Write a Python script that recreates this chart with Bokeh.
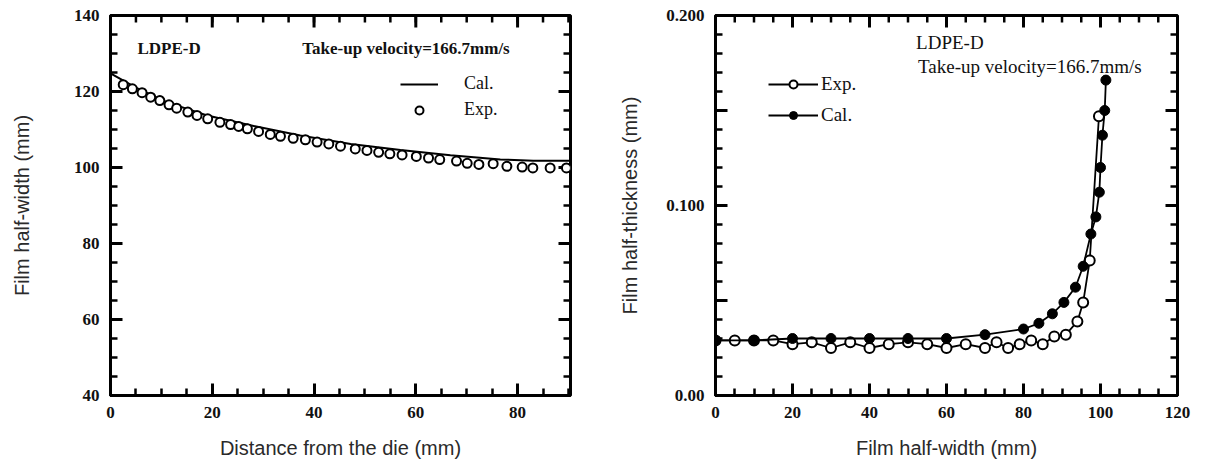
import math
from bokeh.plotting import figure
from bokeh.layouts import row
from bokeh.models import FixedTicker, Range1d, Legend, LegendItem
from bokeh.core.properties import value
from bokeh.embed import file_html
from bokeh.resources import INLINE

# ---------------- Left panel data: film half-width vs distance from die ----------------
dist_cal = [0, 5, 11, 19, 27.5, 37.3, 47.2, 57, 66.8, 76.6, 83.1, 90.4]
width_cal = [124.8, 121.0, 117.2, 113.7, 111.1, 108.4, 106.2, 104.6, 103.2, 102.1, 101.8, 101.8]

dist_exp = [2.5, 4.3, 6.2, 7.9, 9.7, 11.5, 13.0, 15.2, 17.0, 19.1, 21.5, 23.6, 25.2, 26.9,
            29.1, 31.4, 33.4, 35.9, 38.3, 40.6, 42.9, 45.2, 48.1, 50.4, 52.7, 54.9, 57.3,
            60.1, 62.5, 64.7, 68.0, 70.1, 72.4, 75.2, 77.9, 80.9, 83.0, 86.4, 89.6]
width_exp = [121.8, 120.7, 119.7, 118.5, 117.6, 116.5, 115.6, 114.6, 113.7, 112.8, 111.9,
             111.3, 110.8, 110.2, 109.5, 108.7, 108.2, 107.7, 107.3, 106.7, 106.2, 105.6,
             104.9, 104.5, 104.0, 103.6, 103.3, 102.9, 102.5, 102.1, 101.7, 101.1, 100.8,
             101.0, 100.3, 100.1, 99.9, 99.9, 99.9]

# ---------------- Right panel data: film half-thickness vs film half-width ----------------
hw_exp = [0, 5, 10, 15, 20, 25, 30, 35, 40, 45, 50, 55, 60, 65, 70, 73, 76, 79, 82, 85,
          88, 91, 94, 95.5, 97.2, 99.6]
ht_exp = [0.029, 0.029, 0.029, 0.029, 0.027, 0.028, 0.025, 0.028, 0.025, 0.027, 0.028,
          0.027, 0.025, 0.027, 0.025, 0.028, 0.025, 0.027, 0.029, 0.027, 0.031, 0.032,
          0.039, 0.049, 0.071, 0.147]

hw_cal = [0, 10, 20, 30, 40, 50, 60, 70, 80, 84, 87.5, 90.5, 93.5, 95.5, 97.5, 98.8,
          99.7, 100.0, 100.5, 101.1, 101.4]
ht_cal = [0.029, 0.029, 0.030, 0.030, 0.030, 0.030, 0.030, 0.032, 0.035, 0.038, 0.043,
          0.049, 0.057, 0.068, 0.085, 0.094, 0.107, 0.120, 0.137, 0.150, 0.166]

# tick labels / tick positions
left_x_ticks = [0, 20, 40, 60, 80]
left_x_minor = list(range(0, 91, 5))
left_y_ticks = [40, 60, 80, 100, 120, 140]
left_y_minor = list(range(40, 141, 5))
right_x_ticks = [0, 20, 40, 60, 80, 100, 120]
right_x_minor = list(range(0, 121, 5))
right_y_ticks = [0, 0.05, 0.1, 0.15, 0.2]
right_y_minor = [round(i * 0.01, 2) for i in range(0, 21)]
right_y_labels = {0: "0.00", 0.05: "", 0.1: "0.100", 0.15: "", 0.2: "0.200"}

TICK_FONT = "Liberation Serif"
TITLE_FONT = "Liberation Sans"


def style_axis(ax, ticks, minor, overrides=None, title=None, title_standoff=20):
    ax.ticker = FixedTicker(ticks=ticks, minor_ticks=minor)
    ax.axis_line_width = 3
    ax.axis_line_color = "black"
    ax.major_tick_in = 12
    ax.major_tick_out = 0
    ax.minor_tick_in = 7
    ax.minor_tick_out = 0
    ax.major_tick_line_color = "black"
    ax.minor_tick_line_color = "black"
    ax.major_tick_line_width = 3
    ax.minor_tick_line_width = 2.5
    ax.major_label_text_font = TICK_FONT
    ax.major_label_text_font_size = "17px"
    ax.major_label_text_font_style = "bold"
    ax.major_label_text_color = "#111111"
    ax.major_label_standoff = 11
    if overrides:
        ax.major_label_overrides = overrides
    ax.axis_label = title
    ax.axis_label_text_font = TITLE_FONT
    ax.axis_label_text_font_size = "20px"
    ax.axis_label_text_font_style = "normal"
    ax.axis_label_text_color = "#2a2a2a"
    ax.axis_label_standoff = title_standoff


def inward_ticks(p, xr, yr, xmaj, xmin, ymaj, ymin):
    # mirrored inward tick marks on the top and right edges: fixed-length screen rays
    for vals, ln, lw in ((xmaj, 12, 3), (xmin, 7, 2.5)):
        n = len(vals)
        p.ray(x=vals, y=[yr.end] * n, length=ln, length_units="screen",
              angle=-math.pi / 2, line_color="black", line_width=lw)
    for vals, ln, lw in ((ymaj, 12, 3), (ymin, 7, 2.5)):
        n = len(vals)
        p.ray(x=[xr.end] * n, y=vals, length=ln, length_units="screen",
              angle=math.pi, line_color="black", line_width=lw)


def make_fig(width, xr, yr, left_border):
    p = figure(width=width, height=468, x_range=xr, y_range=yr,
               output_backend="svg", toolbar_location=None,
               min_border_left=left_border, min_border_right=30,
               min_border_top=15, min_border_bottom=73)
    p.xgrid.grid_line_color = None
    p.ygrid.grid_line_color = None
    p.outline_line_color = "black"
    p.outline_line_width = 3
    return p


# ---------------- Left figure ----------------
xr1, yr1 = Range1d(0, 90.4), Range1d(40, 140)
p1 = make_fig(600, xr1, yr1, 110)
style_axis(p1.xaxis[0], left_x_ticks, left_x_minor,
           title="Distance from the die (mm)", title_standoff=16)
style_axis(p1.yaxis[0], left_y_ticks, left_y_minor,
           title="Film half-width (mm)", title_standoff=38)
inward_ticks(p1, xr1, yr1, left_x_ticks, left_x_minor, left_y_ticks, left_y_minor)

cal1 = p1.line(dist_cal, width_cal, line_color="black", line_width=2)
exp1 = p1.scatter(dist_exp, width_exp, marker="circle", size=9, fill_color="white",
                  line_color="black", line_width=2)

leg1 = Legend(items=[LegendItem(label="Cal.", renderers=[cal1]),
                     LegendItem(label="Exp.", renderers=[exp1])],
              location=(280, 265), glyph_width=38, glyph_height=20, label_height=20,
              label_standoff=26, spacing=5, padding=10, border_line_alpha=0,
              background_fill_alpha=0, label_text_font=TICK_FONT,
              label_text_font_size="18px", label_text_color="#111111")
p1.add_layout(leg1, "center")

ann1_x = [5.3, 37.7]
ann1_y = [131.3, 131.3]
ann1_t = ["LDPE-D", "Take-up velocity=166.7mm/s"]
p1.text(ann1_x, ann1_y, text=ann1_t, text_font=value(TICK_FONT), text_font_size="17px",
        text_font_style="bold", text_baseline="middle", text_align="left", text_color="#111111")

# ---------------- Right figure ----------------
xr2, yr2 = Range1d(0, 120), Range1d(0, 0.2)
p2 = make_fig(607, xr2, yr2, 115)
style_axis(p2.xaxis[0], right_x_ticks, right_x_minor,
           title="Film half-width (mm)", title_standoff=16)
style_axis(p2.yaxis[0], right_y_ticks, right_y_minor, overrides=right_y_labels,
           title="Film half-thickness (mm)", title_standoff=22)
inward_ticks(p2, xr2, yr2, right_x_ticks, right_x_minor, right_y_ticks, right_y_minor)

exp_line = p2.line(hw_exp, ht_exp, line_color="black", line_width=1.8)
exp_pts = p2.scatter(hw_exp, ht_exp, marker="circle", size=10, fill_color="white",
                     line_color="black", line_width=2)
cal_line = p2.line(hw_cal, ht_cal, line_color="black", line_width=1.8)
cal_pts = p2.scatter(hw_cal, ht_cal, marker="circle", size=10, fill_color="black",
                     line_color="black", line_width=1)

leg2 = Legend(items=[LegendItem(label="Exp.", renderers=[exp_line, exp_pts]),
                     LegendItem(label="Cal.", renderers=[cal_line, cal_pts])],
              location=(43, 259), glyph_width=50, glyph_height=20, label_height=20,
              label_standoff=3, spacing=9, padding=10, border_line_alpha=0,
              background_fill_alpha=0, label_text_font=TICK_FONT,
              label_text_font_size="19px", label_text_color="#111111")
p2.add_layout(leg2, "center")

ann2_x = [52.1, 52.6]
ann2_y = [0.186, 0.173]
ann2_t = ["LDPE-D", "Take-up velocity=166.7mm/s"]
p2.text(ann2_x, ann2_y, text=ann2_t, text_font=value(TICK_FONT), text_font_size="19px",
        text_baseline="middle", text_align="left", text_color="#111111")

layout = row(p1, p2)
open("out.html", "w").write(file_html(layout, INLINE))
